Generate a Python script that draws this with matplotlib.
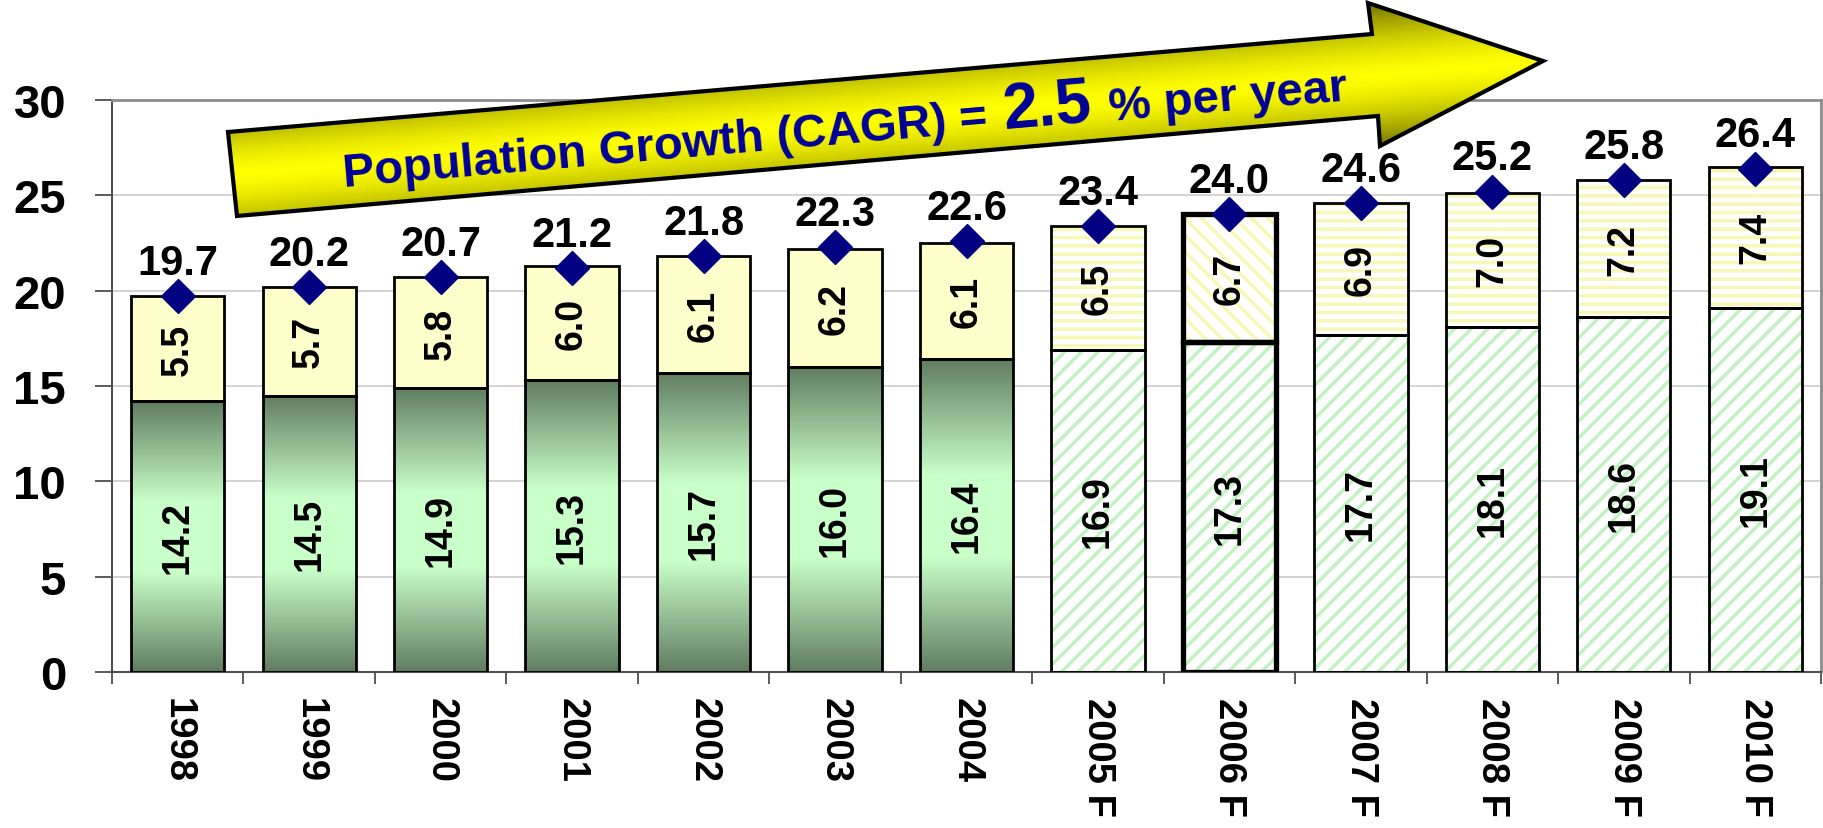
import numpy as np
import matplotlib
matplotlib.use('Agg')
import matplotlib.pyplot as plt
from matplotlib.patches import Polygon
from matplotlib.font_manager import FontProperties

# data
years = ['1998', '1999', '2000', '2001', '2002', '2003', '2004',
         '2005 F', '2006 F', '2007 F', '2008 F', '2009 F', '2010 F']
base = [14.2, 14.5, 14.9, 15.3, 15.7, 16.0, 16.4, 16.9, 17.3, 17.7, 18.1, 18.6, 19.1]
extra = [5.5, 5.7, 5.8, 6.0, 6.1, 6.2, 6.1, 6.5, 6.7, 6.9, 7.0, 7.2, 7.4]
total = [19.7, 20.2, 20.7, 21.2, 21.8, 22.3, 22.6, 23.4, 24.0, 24.6, 25.2, 25.8, 26.4]
y_ticks = [0, 5, 10, 15, 20, 25, 30]
highlight = '2006 F'
banner = ['Population Growth (CAGR) =', '2.5', '% per year']

plt.rcParams['font.family'] = ['Liberation Sans', 'DejaVu Sans']
plt.rcParams['font.weight'] = 'bold'
plt.rcParams['hatch.linewidth'] = 2.5

W, H = 1824, 829
fig = plt.figure(figsize=(W / 100, H / 100), dpi=100)
ax = fig.add_axes([112 / W, 1 - 673 / H, (1821 - 112) / W, (673 - 101) / H])

x = np.arange(len(years))
bw = 0.71
dark = np.array([0.38, 0.49, 0.38])
light = np.array([0.79, 1.0, 0.79])
t = np.linspace(0, 1, 200)
s = np.clip((1 - np.abs(2 * t - 1)) * 1.35, 0, 1)
grad = (dark + (light - dark) * s[:, None])[:, None, :]

for i, yr in enumerate(years):
    lw = 3.8 if yr == highlight else 2
    if ' F' in yr:
        ax.bar(x[i], base[i], bw, color='white', edgecolor='#c2f2c2', hatch='//',
               linewidth=0, zorder=2)
        ax.bar(x[i], extra[i], bw, bottom=base[i], color='white', edgecolor='#f7f7b6',
               hatch='\\\\' if yr == highlight else '--', linewidth=0, zorder=2)
    else:
        ax.imshow(grad, extent=(x[i] - bw / 2, x[i] + bw / 2, 0, base[i]), aspect='auto',
                  origin='lower', zorder=2, interpolation='bilinear')
        ax.bar(x[i], extra[i], bw, bottom=base[i], color='#ffffcc', linewidth=0, zorder=2)
    ax.bar(x[i], base[i], bw, fill=False, edgecolor='black', linewidth=lw, zorder=3)
    ax.bar(x[i], extra[i], bw, bottom=base[i], fill=False, edgecolor='black', linewidth=lw, zorder=3)
    ax.text(x[i], base[i] / 2, f'{base[i]:.1f}', rotation=90, ha='center', va='center',
            fontsize=27, zorder=4)
    ax.text(x[i], base[i] + extra[i] / 2, f'{extra[i]:.1f}', rotation=90, ha='center',
            va='center', fontsize=27, zorder=4)
    ax.annotate(f'{total[i]:.1f}', (x[i], total[i]), xytext=(0, 16), textcoords='offset points',
                ha='center', va='baseline', fontsize=30, zorder=6)

ax.plot(x, total, 'D', color='#000080', markersize=17.5, zorder=5, clip_on=False)

ax.set_xlim(-0.5, len(years) - 0.5)
ax.set_ylim(0, 30)
ax.set_yticks(y_ticks)
ax.tick_params(axis='y', length=12, width=1.2, color='#404040', pad=21, labelsize=34)
ax.set_xticks(x, years)
ax.tick_params(axis='x', which='major', length=0, pad=18, labelsize=27.5, labelrotation=270)
ax.set_xticks(np.arange(-0.5, len(years), 1), minor=True)
ax.tick_params(axis='x', which='minor', length=8.6, width=1.2, color='#404040')
ax.yaxis.grid(True, color='#c8c8c8', linewidth=1.1)
ax.set_axisbelow(True)
for side in ['top', 'right']:
    ax.spines[side].set_color('#8c8c8c')
    ax.spines[side].set_linewidth(2)
for side in ['left', 'bottom']:
    ax.spines[side].set_color('#505050')
    ax.spines[side].set_linewidth(1.5)

# yellow banner arrow on top, in pixel coords
ov = fig.add_axes([0, 0, 1, 1])
ov.set_xlim(0, W)
ov.set_ylim(H, 0)
ov.axis('off')
pts = [(228, 133), (1372, 35), (1368, 4), (1543, 62), (1380, 147), (1378, 117), (237, 217)]
arrow = Polygon(pts, closed=True, facecolor='none', edgecolor='black', linewidth=3, zorder=3)
ov.add_patch(arrow)

n = np.array([99.0, 1144.0]) / np.hypot(99, 1144)
yy, xx = np.mgrid[0:H, 0:W]
d = np.abs((xx - 232) * n[0] + (yy - 175) * n[1])
k = np.clip(d / 72, 0, 1) ** 1.5
img = np.zeros((H, W, 3))
img[..., 0] = 1 - 0.55 * k
img[..., 1] = 1 - 0.55 * k
im = ov.imshow(img, extent=(0, W, H, 0), aspect='auto', zorder=2)
im.set_clip_path(arrow)

ang = np.degrees(np.arctan2(99, 1144))
u = np.array([np.cos(np.radians(ang)), -np.sin(np.radians(ang))])
renderer = fig.canvas.get_renderer()
pos = np.array([344.0, 187.0])
for part, fs in zip(banner, [34, 46, 34]):
    ov.text(pos[0], pos[1], part, fontsize=fs, color='#000099', rotation=ang,
            rotation_mode='anchor', ha='left', va='baseline', zorder=4)
    w = renderer.get_text_width_height_descent(
        part, FontProperties(family=['Liberation Sans'], weight='bold', size=fs), ismath=False)[0]
    pos = pos + u * (w + 17)

fig.savefig('out.png', dpi=100)
